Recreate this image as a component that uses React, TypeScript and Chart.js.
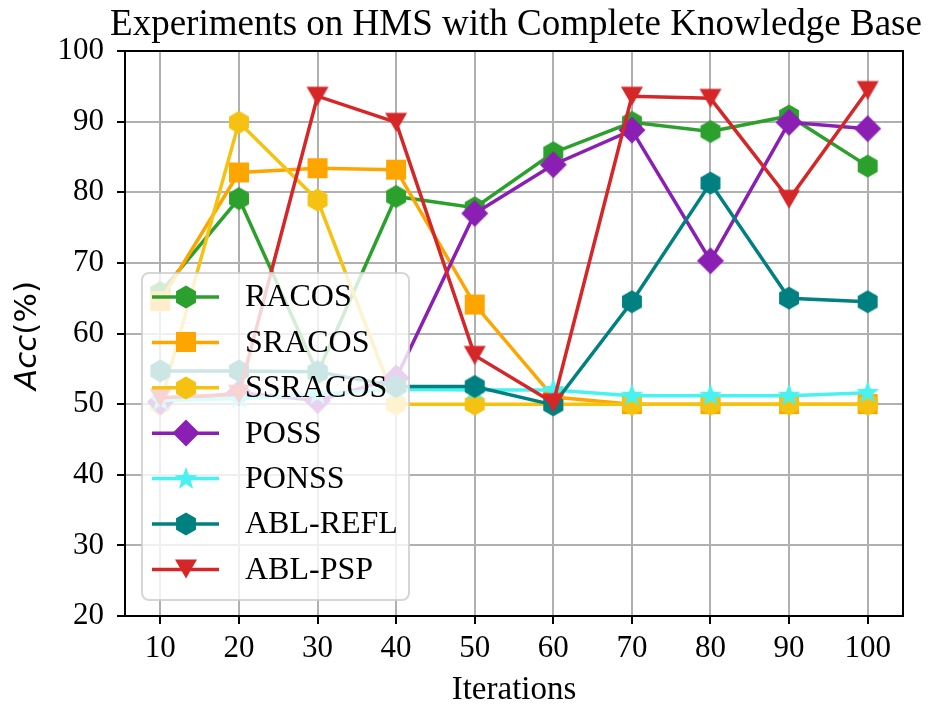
import React, { useEffect, useRef } from 'react';
import { Chart, registerables } from 'chart.js';

Chart.register(...registerables);

const iterations = [10, 20, 30, 40, 50, 60, 70, 80, 90, 100];
const yTicks = [20, 30, 40, 50, 60, 70, 80, 90, 100];

const racos = [65.8, 79.1, 54.4, 79.4, 77.8, 85.6, 89.9, 88.6, 90.8, 83.7];
const sracos = [64.6, 82.8, 83.4, 83.2, 64.1, 51.0, 50.0, 50.0, 50.0, 50.0];
const ssracos = [50.0, 89.9, 78.9, 50.0, 50.0, 50.0, 50.0, 50.0, 50.0, 50.0];
const poss = [50.3, 51.6, 50.5, 53.7, 77.0, 83.9, 88.8, 70.3, 89.9, 89.0];
const ponss = [50.5, 50.8, 51.4, 52.1, 52.0, 52.0, 51.2, 51.2, 51.2, 51.6];
const ablRefl = [54.7, 54.7, 54.6, 52.5, 52.5, 49.9, 64.5, 81.3, 65.0, 64.5];
const ablPsp = [50.9, 51.4, 93.6, 89.9, 56.9, 50.2, 93.6, 93.3, 79.0, 94.4];

const seriesNames = ['RACOS', 'SRACOS', 'SSRACOS', 'POSS', 'PONSS', 'ABL-REFL', 'ABL-PSP'];
const seriesValues = [racos, sracos, ssracos, poss, ponss, ablRefl, ablPsp];
const seriesColors = ['#2ca02c', '#ffa500', '#f5c211', '#8b1fb4', '#48f2f0', '#008080', '#d62728'];
const seriesShapes = ['hexagon', 'square', 'hexagon', 'diamond', 'star', 'hexagon', 'triangleDown'];

const SERIF = "'Liberation Serif', 'Times New Roman', serif";

function makeMarker(shape: string, color: string): HTMLCanvasElement {
  const s = 32;
  const c = document.createElement('canvas');
  c.width = s;
  c.height = s;
  const ctx = c.getContext('2d')!;
  ctx.fillStyle = color;
  const cx = s / 2;
  const cy = s / 2;
  ctx.beginPath();
  if (shape === 'hexagon') {
    const r = 11.5;
    for (let i = 0; i < 6; i++) {
      const a = -Math.PI / 2 + (i * Math.PI) / 3;
      const x = cx + r * Math.cos(a);
      const y = cy + r * Math.sin(a);
      if (i === 0) ctx.moveTo(x, y);
      else ctx.lineTo(x, y);
    }
  } else if (shape === 'square') {
    ctx.rect(cx - 10, cy - 10, 20, 20);
  } else if (shape === 'diamond') {
    ctx.moveTo(cx, cy - 13.5);
    ctx.lineTo(cx + 13.5, cy);
    ctx.lineTo(cx, cy + 13.5);
    ctx.lineTo(cx - 13.5, cy);
  } else if (shape === 'star') {
    const ro = 12;
    const ri = 5;
    for (let i = 0; i < 10; i++) {
      const a = -Math.PI / 2 + (i * Math.PI) / 5;
      const r = i % 2 === 0 ? ro : ri;
      const x = cx + r * Math.cos(a);
      const y = cy + r * Math.sin(a);
      if (i === 0) ctx.moveTo(x, y);
      else ctx.lineTo(x, y);
    }
  } else if (shape === 'triangleDown') {
    ctx.moveTo(cx - 11, cy - 9.5);
    ctx.lineTo(cx + 11, cy - 9.5);
    ctx.lineTo(cx, cy + 9.5);
  }
  ctx.closePath();
  ctx.fill();
  return c;
}

const decorPlugin = {
  id: 'decor',
  afterDatasetsDraw(chart: any) {
    const { ctx, chartArea } = chart;
    ctx.save();
    ctx.strokeStyle = '#000';
    ctx.lineWidth = 2;
    ctx.strokeRect(chartArea.left, chartArea.top, chartArea.right - chartArea.left, chartArea.bottom - chartArea.top);
    ctx.restore();
  },
  afterDraw(chart: any) {
    const { ctx, chartArea } = chart;
    const cx = (chartArea.left + chartArea.right) / 2;
    ctx.save();
    // title
    ctx.fillStyle = '#000';
    ctx.font = `37px ${SERIF}`;
    ctx.textAlign = 'center';
    ctx.textBaseline = 'alphabetic';
    ctx.fillText('Experiments on HMS with Complete Knowledge Base', cx + 2, 35);
    // x label
    ctx.font = `33px ${SERIF}`;
    ctx.fillText('Iterations', cx, 699);
    // y label
    ctx.save();
    ctx.translate(28, (chartArea.top + chartArea.bottom) / 2 + 2);
    ctx.rotate(-Math.PI / 2);
    const italic = "italic 31px 'DejaVu Sans', sans-serif";
    const normal = "31px 'DejaVu Sans', sans-serif";
    ctx.font = italic;
    const w1 = ctx.measureText('Acc').width;
    ctx.font = normal;
    const w2 = ctx.measureText('(%)').width;
    const start = -(w1 + w2) / 2;
    ctx.textAlign = 'left';
    ctx.textBaseline = 'middle';
    ctx.font = italic;
    ctx.fillText('Acc', start, 0);
    ctx.font = normal;
    ctx.fillText('(%)', start + w1, 0);
    ctx.restore();

    // legend
    const bx = 142;
    const by = 273;
    const bw = 267;
    const bh = 327;
    const r = 7;
    ctx.beginPath();
    ctx.moveTo(bx + r, by);
    ctx.lineTo(bx + bw - r, by);
    ctx.arcTo(bx + bw, by, bx + bw, by + r, r);
    ctx.lineTo(bx + bw, by + bh - r);
    ctx.arcTo(bx + bw, by + bh, bx + bw - r, by + bh, r);
    ctx.lineTo(bx + r, by + bh);
    ctx.arcTo(bx, by + bh, bx, by + bh - r, r);
    ctx.lineTo(bx, by + r);
    ctx.arcTo(bx, by, bx + r, by, r);
    ctx.closePath();
    ctx.fillStyle = 'rgba(255,255,255,0.8)';
    ctx.fill();
    ctx.strokeStyle = 'rgba(204,204,204,0.8)';
    ctx.lineWidth = 2;
    ctx.stroke();

    const datasets = chart.data.datasets;
    datasets.forEach((ds: any, i: number) => {
      const y = 297 + i * 45.4;
      ctx.strokeStyle = ds.borderColor;
      ctx.lineWidth = 3.5;
      ctx.beginPath();
      ctx.moveTo(152, y);
      ctx.lineTo(219, y);
      ctx.stroke();
      const img = ds.pointStyle as HTMLCanvasElement;
      ctx.drawImage(img, Math.round(185.5 - img.width / 2), Math.round(y - img.height / 2));
      ctx.fillStyle = '#000';
      ctx.font = `32px ${SERIF}`;
      ctx.textAlign = 'left';
      ctx.textBaseline = 'middle';
      ctx.fillText(ds.label, 245, y + 1);
    });
    ctx.restore();
  },
};

export default function App() {
  const canvasRef = useRef<HTMLCanvasElement | null>(null);

  useEffect(() => {
    if (!canvasRef.current) return;
    const datasets = seriesNames.map((name, i) => ({
      label: name,
      data: iterations.map((x, j) => ({ x, y: seriesValues[i][j] })),
      borderColor: seriesColors[i],
      backgroundColor: seriesColors[i],
      borderWidth: 3.5,
      pointStyle: makeMarker(seriesShapes[i], seriesColors[i]),
      pointRadius: 10,
      tension: 0,
      fill: false,
      order: seriesNames.length - i,
      clip: false as any,
    }));

    const chart = new Chart(canvasRef.current, {
      type: 'line',
      data: { datasets },
      options: {
        responsive: false,
        animation: false,
        devicePixelRatio: 1,
        layout: { padding: { top: 51, right: 27, left: 0, bottom: 0 } },
        plugins: {
          legend: { display: false },
          title: { display: false },
          tooltip: { enabled: false },
        },
        scales: {
          x: {
            type: 'linear',
            min: 5.5,
            max: 104.5,
            afterBuildTicks: (ax: any) => {
              ax.ticks = iterations.map((v) => ({ value: v }));
            },
            afterFit: (s: any) => {
              s.height = 90;
            },
            grid: { color: '#b0b0b0', lineWidth: 2, tickColor: '#000', tickLength: 8, tickWidth: 2 },
            border: { display: false },
            ticks: {
              font: { family: SERIF, size: 31 },
              color: '#000',
              padding: 6,
              maxRotation: 0,
              autoSkip: false,
            },
          },
          y: {
            type: 'linear',
            min: 20,
            max: 100,
            afterBuildTicks: (ax: any) => {
              ax.ticks = yTicks.map((v) => ({ value: v }));
            },
            afterFit: (s: any) => {
              s.width = 125;
            },
            grid: { color: '#b0b0b0', lineWidth: 2, tickColor: '#000', tickLength: 8, tickWidth: 2 },
            border: { display: false },
            ticks: {
              font: { family: SERIF, size: 31 },
              color: '#000',
              padding: 13,
              autoSkip: false,
            },
          },
        },
      },
      plugins: [decorPlugin],
    });
    return () => chart.destroy();
  }, []);

  return (
    <div style={{ position: 'absolute', left: 0, top: 0, width: 930, height: 706, background: '#fff' }}>
      <canvas ref={canvasRef} width={930} height={706} style={{ width: 930, height: 706 }} />
    </div>
  );
}
